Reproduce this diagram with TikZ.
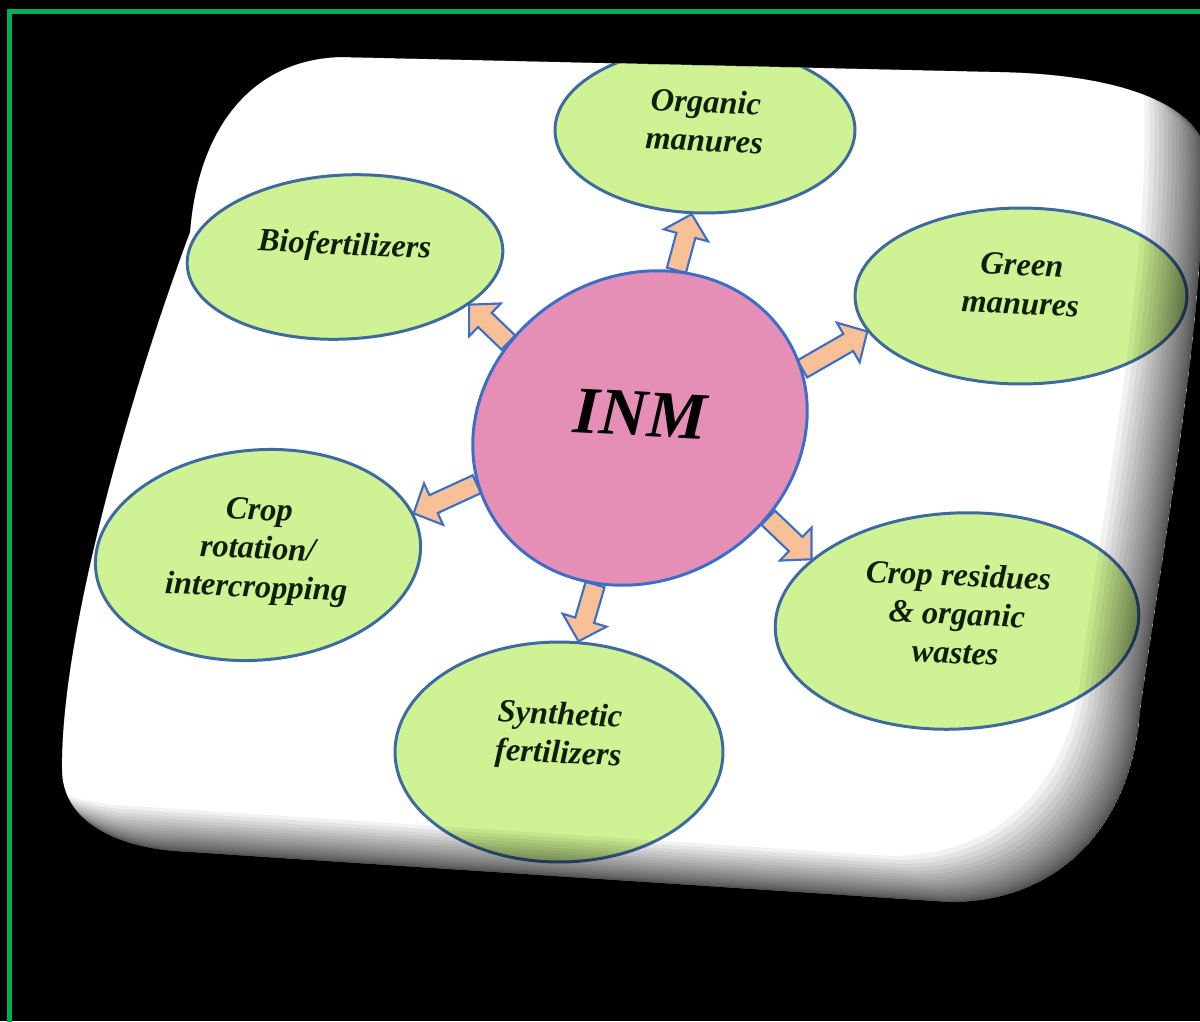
\documentclass[tikz,border=0pt]{standalone}
\usepackage{fontspec}
\usepackage{graphicx}
\setmainfont{Liberation Serif}
\usetikzlibrary{shapes.geometric,calc}
\definecolor{ellfill}{RGB}{207,243,148}
\definecolor{ellline}{RGB}{62,106,160}
\definecolor{inmfill}{RGB}{230,143,182}
\definecolor{inmline}{RGB}{60,110,200}
\definecolor{arrfill}{RGB}{247,192,150}
\definecolor{arrline}{RGB}{60,110,200}
\definecolor{txt}{RGB}{16,30,14}
\definecolor{framegreen}{RGB}{0,176,80}
\pgfdeclarelayer{cardl}
\pgfdeclarelayer{arrl}
\pgfsetlayers{cardl,arrl,main}
\newcommand\cardp[2]{(340-#1,57-#2) -- (1000-#1,72-#2) .. controls (1100-#1,74-#2) and (1180-#1,95-#2) .. (1202-#1,140-#2) .. controls (1208-#1,300-#2) and (1170-#1,500-#2) .. (1140-#1,710-#2) .. controls (1132-#1,825-#2) and (1060-#1,902-#2) .. (950-#1,902-#2) -- (175-#1,851-#2) .. controls (105-#1,845-#2) and (62-#1,815-#2) .. (62-#1,770-#2) .. controls (60-#1,650-#2) and (120-#1,420-#2) .. (190-#1,232-#2) .. controls (198-#1,130-#2) and (250-#1,60-#2) .. (340-#1,57-#2) -- cycle}
\newcommand\fatarrow[2]{%
  \coordinate (fa-a) at (#1);
  \coordinate (fa-b) at (#2);
  \coordinate (fa-h) at ($(fa-b)!12.5pt!(fa-a)$);
  \draw[fatarr] ($(fa-a)!5.6pt!90:(fa-b)$) -- ($(fa-h)!5.6pt!-90:(fa-a)$) -- ($(fa-h)!13pt!-90:(fa-a)$) -- (fa-b) -- ($(fa-h)!13pt!90:(fa-a)$) -- ($(fa-h)!5.6pt!90:(fa-a)$) -- ($(fa-a)!5.6pt!-90:(fa-b)$) -- cycle;}
% #1 rotation of the text, #2 raise, #3 lines
\newcommand\lbl[3]{\raisebox{#2}[\height][\depth]{\rotatebox{#1}{\begin{tabular}{@{}c@{}}#3\end{tabular}}}}
\begin{document}
\begin{tikzpicture}[x=0.02cm,y=-0.02cm,
  ell/.style={ellipse, draw=ellline, fill=ellfill, line width=1.7pt, inner sep=0pt, text=txt, font=\bfseries\itshape\fontsize{18.5}{22}\selectfont},
  fatarr/.style={draw=arrline, fill=arrfill, line width=1.2pt, line join=miter}]
\useasboundingbox (0,0) rectangle (1200,1021);
\begin{pgfonlayer}{cardl}
  \fill[black] (0,0) rectangle (1200,1021);
  \draw[framegreen, line width=0.1cm] (9.5,1030) -- (9.5,11.5) -- (1210,11.5);
  \fill[white] \cardp{0}{0};
\end{pgfonlayer}
\begin{scope}
  \clip \cardp{0}{0};
  \node[ell, minimum width=6cm, minimum height=3.32cm] (org) at (705,130) {\lbl{-2.5}{0.12cm}{Organic\\manures}};
  \node[ell, rotate=3, minimum width=6.32cm, minimum height=3.28cm] (bio) at (345,257) {\lbl{-5.5}{0.2cm}{Biofertilizers}};
  \node[ell, minimum width=6.64cm, minimum height=3.52cm] (grn) at (1021,296) {\lbl{-2.5}{0.18cm}{Green\\manures}};
  \node[ell, rotate=30, fill=inmfill, draw=inmline, minimum width=6.88cm, minimum height=6.08cm] (inm) at (640,428) {};
  \node[text=black, font=\bfseries\itshape\fontsize{38}{44}\selectfont, rotate=-3] (inmt) at (640,414) {INM};
  \node[ell, rotate=5, minimum width=6.52cm, minimum height=4.2cm] (rot) at (258,555) {\lbl{-7.5}{0.08cm}{Crop\\rotation/\\intercropping}};
  \node[ell, minimum width=6.56cm, minimum height=4.4cm] (syn) at (559,752) {\lbl{-2.5}{0.32cm}{Synthetic\\fertilizers}};
  \node[ell, rotate=3, minimum width=7.28cm, minimum height=4.32cm] (res) at (957,621) {\lbl{-5.5}{0.08cm}{Crop residues\\\& organic\\wastes}};
\end{scope}
\begin{pgfonlayer}{arrl}
  \fatarrow{inm.47}{org.261}
  \fatarrow{inm.117}{bio.336}
  \fatarrow{inm.350}{grn.193}
  \fatarrow{inm.169}{rot.10}
  \fatarrow{inm.224}{syn.80}
  \fatarrow{inm.295}{res.154}
\end{pgfonlayer}
\begin{scope}
  \clip \cardp{0}{0};
  \foreach \i in {1,...,20}{
    \pgfmathsetmacro\sx{58*(\i/20)^1.8}
    \pgfmathsetmacro\sy{46*(\i/20)^1.8}
    \fill[black, fill opacity=0.055, even odd rule] \cardp{0}{0} \cardp{\sx}{\sy};
  }
\end{scope}
\end{tikzpicture}
\end{document}
